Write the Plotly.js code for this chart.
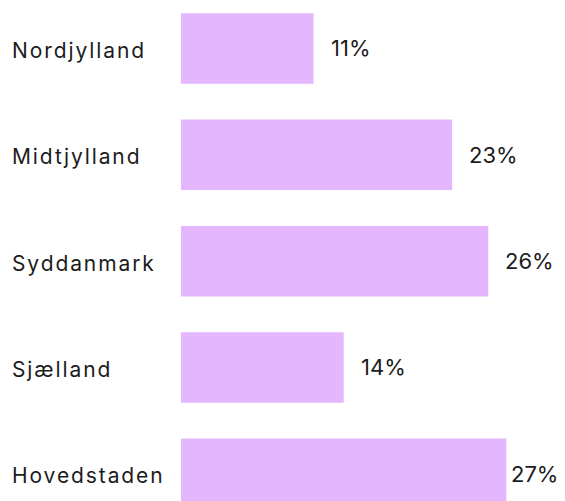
<!DOCTYPE html>
<html>
<head>
<meta charset="utf-8">
<script src="https://cdn.plot.ly/plotly-3.0.1.min.js"></script>
<style>html,body{margin:0;padding:0;background:#fff;}#chart{width:565px;height:501px;}</style>
</head>
<body>
<div id="chart"></div>
<script>
const regions = ["Nordjylland", "Midtjylland", "Syddanmark", "Sjælland", "Hovedstaden"];
const shares = [11.0, 22.5, 25.5, 13.5, 27.0];
const shareLabels = ["11%", "23%", "26%", "14%", "27%"];

const FONT = "Inter, 'DejaVu Sans', sans-serif";
const TEXT = "#1c1c1c";
const W = 565, H = 501, ML = 181;
const PX_PER_UNIT = 12.05;
const PLOT_W = W - ML;

const trace = {
  type: "bar",
  orientation: "h",
  y: regions,
  x: shares,
  marker: {color: "#e4b6fd", line: {width: 0}},
  width: 0.663,
  hoverinfo: "skip"
};

const annotations = [];
regions.forEach((r) => {
  annotations.push({
    xref: "paper", yref: "y", x: -ML / PLOT_W, y: r,
    xanchor: "left", yanchor: "middle", align: "left",
    text: r, showarrow: false, xshift: 10, yshift: -2,
    font: {family: FONT, size: 21, color: TEXT}
  });
});
regions.forEach((r, i) => {
  const endPx = ML + shares[i] * PX_PER_UNIT;
  const fits = endPx + 16 + 46 <= W - 4;
  if (fits) {
    annotations.push({
      xref: "x", yref: "y", x: shares[i], y: r,
      xanchor: "left", yanchor: "middle", align: "left",
      text: shareLabels[i], showarrow: false, xshift: 15,
      font: {family: FONT, size: 22, color: TEXT}
    });
  } else {
    annotations.push({
      xref: "paper", yref: "y", x: 1, y: r,
      xanchor: "right", yanchor: "middle", align: "right",
      text: shareLabels[i], showarrow: false, xshift: -5,
      font: {family: FONT, size: 22, color: TEXT}
    });
  }
});

const layout = {
  width: W, height: H,
  margin: {l: ML, r: 0, t: 0, b: 0, pad: 0},
  paper_bgcolor: "#ffffff", plot_bgcolor: "#ffffff",
  showlegend: false,
  xaxis: {range: [0, PLOT_W / PX_PER_UNIT], visible: false, fixedrange: true},
  yaxis: {type: "category", range: [4.256, -0.456], showticklabels: false,
          showgrid: false, zeroline: false, showline: false, ticks: "", fixedrange: true},
  annotations: annotations
};

Plotly.newPlot("chart", [trace], layout, {displayModeBar: false, staticPlot: true}).then(() => {
  document.querySelectorAll("#chart .annotation").forEach((g) => {
    const idx = +g.getAttribute("data-index");
    if (idx < regions.length) {
      const t = g.querySelector("text");
      if (t) t.style.letterSpacing = "1.9px";
    }
  });
});
</script>
</body>
</html>
